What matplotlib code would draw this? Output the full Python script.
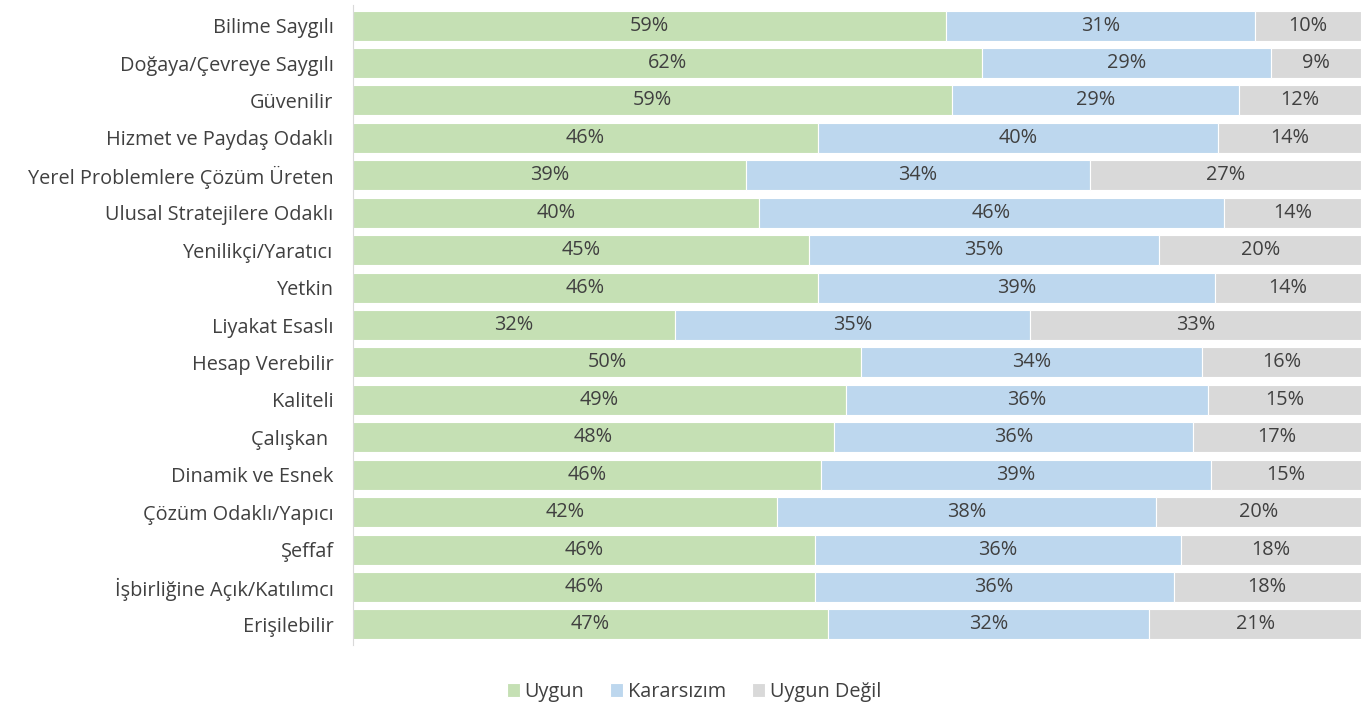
import matplotlib
matplotlib.use("Agg")
import matplotlib.pyplot as plt
import numpy as np

plt.rcParams['font.family'] = ['Open Sans', 'DejaVu Sans']

categories = ["Bilime Saygılı", "Doğaya/Çevreye Saygılı", "Güvenilir",
              "Hizmet ve Paydaş Odaklı", "Yerel Problemlere Çözüm Üreten",
              "Ulusal Stratejilere Odaklı", "Yenilikçi/Yaratıcı", "Yetkin",
              "Liyakat Esaslı", "Hesap Verebilir", "Kaliteli", "Çalışkan ",
              "Dinamik ve Esnek", "Çözüm Odaklı/Yapıcı", "Şeffaf",
              "İşbirliğine Açık/Katılımcı", "Erişilebilir"]

# bar widths (share in %)
uygun = [58.8, 62.4, 59.4, 46.1, 39.0, 40.3, 45.2, 46.1, 31.9, 50.4, 48.9,
         47.7, 46.4, 42.1, 45.8, 45.8, 47.1]
kararsiz = [30.7, 28.7, 28.5, 39.7, 34.1, 46.1, 34.8, 39.4, 35.3, 33.8, 35.9,
            35.6, 38.7, 37.6, 36.3, 35.6, 31.9]
uygun_degil = [10.5, 8.9, 12.1, 14.2, 26.9, 13.6, 20.0, 14.5, 32.8, 15.8, 15.2,
               16.7, 14.9, 20.3, 17.9, 18.6, 21.0]

# labels as printed on the chart
lbl_uygun = [59, 62, 59, 46, 39, 40, 45, 46, 32, 50, 49, 48, 46, 42, 46, 46, 47]
lbl_kararsiz = [31, 29, 29, 40, 34, 46, 35, 39, 35, 34, 36, 36, 39, 38, 36, 36, 32]
lbl_degil = [10, 9, 12, 14, 27, 14, 20, 14, 33, 16, 15, 17, 15, 20, 18, 18, 21]

series = ["Uygun", "Kararsızım", "Uygun Değil"]
colors = ["#C5E0B4", "#BDD7EE", "#D9D9D9"]
text_col = "#404040"
fs = 14.3

fig = plt.figure(figsize=(13.65, 7.04), dpi=100)
ax = fig.add_axes([353 / 1365, 1 - 645 / 704, 1008 / 1365, 640 / 704])

y = np.arange(len(categories))
left = np.zeros(len(categories))
for vals, lbls, col, name in zip([uygun, kararsiz, uygun_degil],
                                 [lbl_uygun, lbl_kararsiz, lbl_degil],
                                 colors, series):
    vals = np.array(vals)
    bars = ax.barh(y, vals, left=left, height=0.8, color=col,
                   edgecolor="white", linewidth=0.8, label=name)
    ax.bar_label(bars, labels=[f"{v}%" for v in lbls], label_type="center",
                 fontsize=fs, color=text_col)
    left += vals

ax.set_xlim(0, 100)
ax.set_ylim(len(categories) - 0.5 + 0.05, -0.55)
ax.set_yticks(y)
ax.set_yticklabels(categories, fontsize=fs, color=text_col)
ax.tick_params(axis="y", length=0, pad=14)
ax.set_xticks([])
for s in ["top", "right", "bottom"]:
    ax.spines[s].set_visible(False)
ax.spines["left"].set_color("#D9D9D9")

ax.legend(loc="center", bbox_to_anchor=(694 / 1365, 1 - 692 / 704),
          bbox_transform=fig.transFigure, ncol=3, frameon=False,
          fontsize=fs, handlelength=0.65, handleheight=0.65, handletextpad=0.25,
          columnspacing=1.3, labelcolor=text_col)

fig.savefig("out.png", dpi=100)
